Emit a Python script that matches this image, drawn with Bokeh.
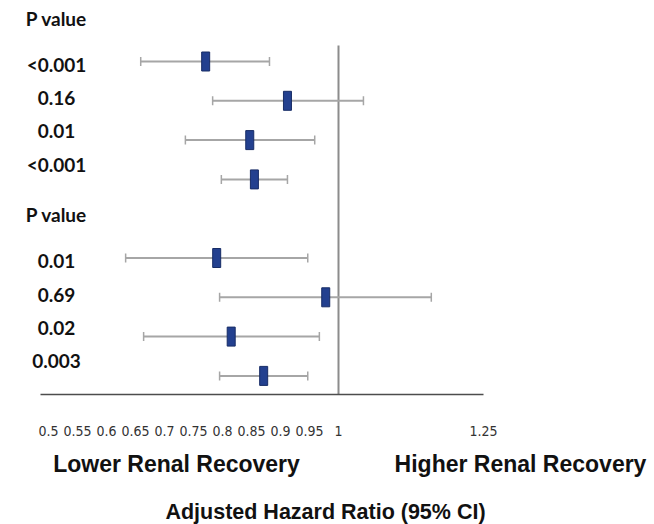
from bokeh.plotting import figure
from bokeh.models import Range1d, LinearAxis, FixedTicker, ColumnDataSource
from bokeh.layouts import column
from bokeh.core.properties import value
from bokeh.embed import file_html
from bokeh.resources import INLINE
import math

# ---- data ----
hr = [0.771, 0.912, 0.847, 0.855, 0.790, 0.978, 0.815, 0.871]
ci_low = [0.659, 0.783, 0.736, 0.798, 0.633, 0.795, 0.664, 0.795]
ci_high = [0.881, 1.043, 0.959, 0.912, 0.947, 1.160, 0.967, 0.947]
p_group1 = ["<0.001", "0.16", "0.01", "<0.001"]
p_group2 = ["0.01", "0.69", "0.02", "0.003"]
header = "P value"
tick_values = [0.5, 0.55, 0.6, 0.65, 0.7, 0.75, 0.8, 0.85, 0.9, 0.95, 1.0, 1.25]
tick_labels = ["0.5", "0.55", "0.6", "0.65", "0.7", "0.75", "0.8", "0.85", "0.9", "0.95", "1", "1.25"]
ref_value = 1.0
axis_min, axis_max = 0.486, 1.25
left_text = "Lower Renal Recovery"
right_text = "Higher Renal Recovery"
x_title = "Adjusted Hazard Ratio (95% CI)"

# ---- layout ----
W, H = 654, 524
frame_h = 394
top_h = 446
bot_h = H - top_h
row_pos = [0, 1, 2, 3, 5, 6, 7, 8]
px_per_unit = 580.0
x0 = 0.5 - 48 / px_per_unit
x1 = x0 + W / px_per_unit
row_px = 39.3
y_top = -61 / row_px
y_bot = y_top + frame_h / row_px
xr = Range1d(x0, x1)

p = figure(width=W, height=top_h, output_backend="svg", toolbar_location=None,
           x_range=xr, y_range=Range1d(y_bot, y_top),
           x_axis_location=None, y_axis_location=None,
           min_border_left=0, min_border_right=0, min_border_top=0, min_border_bottom=top_h - frame_h)
p.outline_line_color = None
p.xgrid.visible = False
p.ygrid.visible = False

ax = LinearAxis(bounds=(axis_min, axis_max), ticker=FixedTicker(ticks=tick_values),
                major_label_overrides={v: l for v, l in zip(tick_values, tick_labels)})
ax.axis_line_color = "#4d4d4d"
ax.axis_line_width = 1.5
ax.major_tick_line_color = None
ax.minor_tick_line_color = None
ax.major_label_standoff = 25
ax.major_label_text_font = "'Liberation Sans Narrow', 'DejaVu Sans Condensed', 'Roboto', sans-serif"
ax.major_label_text_font_size = "14px"
ax.major_label_text_color = "#333333"
p.add_layout(ax, "below")

# reference line at 1
p.segment(x0=[ref_value], x1=[ref_value], y0=[y_top + 45 / row_px], y1=[y_bot],
          line_color="#8c8c8c", line_width=2)

src = ColumnDataSource(dict(y=row_pos, hr=hr, lo=ci_low, hi=ci_high))
p.segment(x0="lo", x1="hi", y0="y", y1="y", source=src, line_color="#a6a6a6", line_width=2)
p.scatter(x="lo", y="y", source=src, marker="dash", angle=math.pi / 2, size=9,
          line_color="#a6a6a6", line_width=1.5)
p.scatter(x="hi", y="y", source=src, marker="dash", angle=math.pi / 2, size=9,
          line_color="#a6a6a6", line_width=1.5)
p.rect(x="hr", y="y", width=8, height=19, width_units="screen", height_units="screen",
       source=src, fill_color="#23408f", line_color="#172c66", line_width=1)

# p-value labels
label_x = 0.5 + 8 / px_per_unit
lab_y, lab_t = [], []
for start, grp in ((0, p_group1), (5, p_group2)):
    lab_y.append(start - 1.1)
    lab_t.append(header)
    for i, t in enumerate(grp):
        lab_y.append(start + 0.08 + 0.85 * i)
        lab_t.append(t)
p.text(x=[label_x] * len(lab_y), y=lab_y, text=lab_t, text_align="center", text_baseline="middle",
       text_font=value("Lato"), text_font_style="bold", text_font_size="19px", text_color="#111111")

# bottom texts panel
q = figure(width=W, height=bot_h, output_backend="svg", toolbar_location=None,
           x_range=xr, y_range=Range1d(bot_h, 0),
           x_axis_location=None, y_axis_location=None,
           min_border_left=0, min_border_right=0, min_border_top=0, min_border_bottom=0)
q.outline_line_color = None
q.xgrid.visible = False
q.ygrid.visible = False
bx = [0.5 + (176 - 48) / px_per_unit, 0.5 + (520 - 48) / px_per_unit]
q.text(x=bx, y=[463 - top_h] * 2, text=[left_text, right_text], text_align="center",
       text_baseline="middle", text_font=value("Liberation Sans"), text_font_style="bold",
       text_font_size="23px", text_color="#111111")
q.text(x=[0.5 + (325 - 48) / px_per_unit], y=[511 - top_h], text=[x_title], text_align="center",
       text_baseline="middle", text_font=value("Liberation Sans"), text_font_style="bold",
       text_font_size="21.5px", text_color="#111111")

open("out.html", "w").write(file_html(column(p, q, spacing=0), INLINE))
